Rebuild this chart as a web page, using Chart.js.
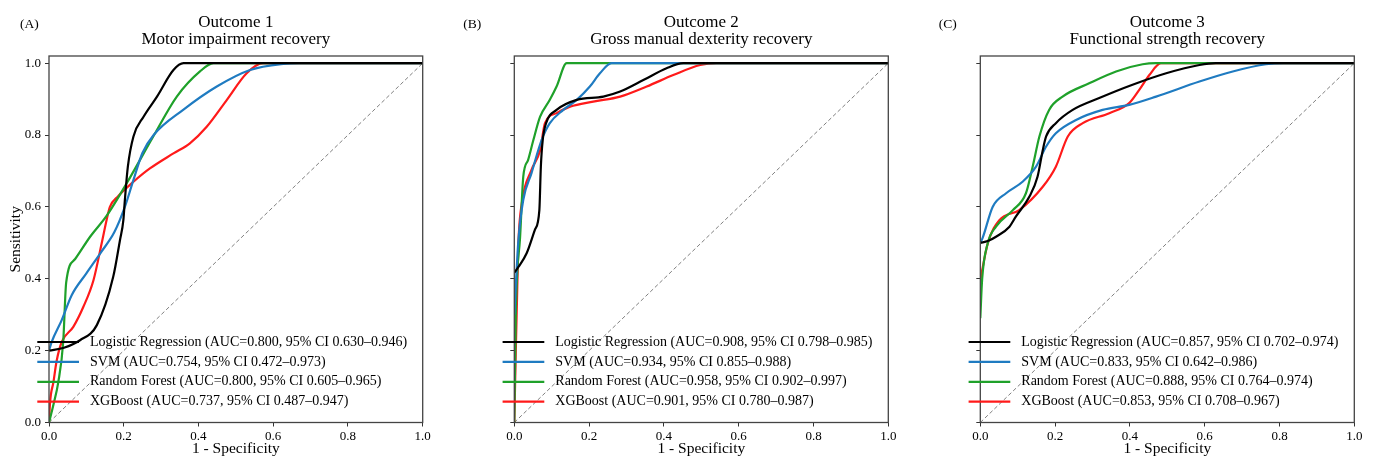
<!DOCTYPE html>
<html><head><meta charset="utf-8">
<script src="https://cdn.jsdelivr.net/npm/chart.js@4.4.1/dist/chart.umd.min.js"></script>
<style>
html,body{margin:0;padding:0;background:#fff;}
body{width:1376px;height:460px;overflow:hidden;position:relative;}
canvas{position:absolute;top:0;}
</style></head><body>
<canvas id="cA" width="460" height="460" style="left:0px"></canvas>
<canvas id="cB" width="460" height="460" style="left:460px"></canvas>
<canvas id="cC" width="456" height="460" style="left:920px"></canvas>
<script>
// ---- data ----
const TICKS = [0, 0.2, 0.4, 0.6, 0.8, 1.0];
const DIAGONAL = [[0, 0], [1, 1]];

const A_TITLE = ['Outcome 1', 'Motor impairment recovery'];
const B_TITLE = ['Outcome 2', 'Gross manual dexterity recovery'];
const C_TITLE = ['Outcome 3', 'Functional strength recovery'];
const PANEL_LETTERS = ['(A)', '(B)', '(C)'];

const A_LABELS = [
  'Logistic Regression (AUC=0.800, 95% CI 0.630\u20130.946)',
  'SVM (AUC=0.754, 95% CI 0.472\u20130.973)',
  'Random Forest (AUC=0.800, 95% CI 0.605\u20130.965)',
  'XGBoost (AUC=0.737, 95% CI 0.487\u20130.947)'];
const B_LABELS = [
  'Logistic Regression (AUC=0.908, 95% CI 0.798\u20130.985)',
  'SVM (AUC=0.934, 95% CI 0.855\u20130.988)',
  'Random Forest (AUC=0.958, 95% CI 0.902\u20130.997)',
  'XGBoost (AUC=0.901, 95% CI 0.780\u20130.987)'];
const C_LABELS = [
  'Logistic Regression (AUC=0.857, 95% CI 0.702\u20130.974)',
  'SVM (AUC=0.833, 95% CI 0.642\u20130.986)',
  'Random Forest (AUC=0.888, 95% CI 0.764\u20130.974)',
  'XGBoost (AUC=0.853, 95% CI 0.708\u20130.967)'];

// [1 - specificity, sensitivity]
const A_LR  = [[0,0.2],[0.04,0.208],[0.083,0.229],[0.128,0.271],[0.172,0.406],[0.19,0.508],[0.199,0.563],[0.203,0.619],[0.211,0.712],[0.226,0.796],[0.253,0.851],[0.289,0.907],[0.333,0.981],[0.36,1],[1,1]];
const A_SVM = [[0,0.2],[0.007,0.224],[0.034,0.285],[0.061,0.355],[0.1,0.415],[0.14,0.475],[0.175,0.53],[0.203,0.6],[0.226,0.675],[0.25,0.75],[0.28,0.8],[0.359,0.87],[0.449,0.935],[0.538,0.981],[0.627,0.998],[0.67,1],[1,1]];
const A_RF  = [[0,0],[0.012,0.05],[0.025,0.113],[0.038,0.224],[0.046,0.39],[0.07,0.455],[0.11,0.517],[0.154,0.575],[0.208,0.666],[0.279,0.796],[0.342,0.907],[0.404,0.977],[0.44,1],[1,1]];
const A_XGB = [[0,0],[0.003,0.058],[0.012,0.113],[0.02,0.169],[0.034,0.224],[0.065,0.266],[0.092,0.322],[0.119,0.396],[0.141,0.499],[0.154,0.563],[0.163,0.6],[0.185,0.63],[0.226,0.67],[0.27,0.707],[0.333,0.749],[0.377,0.777],[0.422,0.823],[0.476,0.898],[0.529,0.972],[0.573,1],[1,1]];

const B_LR  = [[0,0.417],[0.011,0.433],[0.033,0.471],[0.055,0.536],[0.067,0.591],[0.071,0.712],[0.076,0.786],[0.085,0.833],[0.113,0.87],[0.167,0.898],[0.238,0.907],[0.283,0.921],[0.345,0.953],[0.407,0.986],[0.452,1],[1,1]];
const B_SVM = [[0,0.3],[0.005,0.4],[0.011,0.508],[0.024,0.62],[0.046,0.694],[0.073,0.786],[0.095,0.833],[0.131,0.87],[0.167,0.898],[0.202,0.935],[0.229,0.972],[0.26,1],[1,1]];
const B_RF  = [[0,0],[0.004,0.3],[0.008,0.42],[0.015,0.508],[0.024,0.684],[0.037,0.731],[0.051,0.786],[0.069,0.851],[0.095,0.898],[0.113,0.935],[0.14,1],[1,1]];
const B_XGB = [[0,0],[0.004,0.2],[0.008,0.378],[0.011,0.5],[0.02,0.61],[0.046,0.703],[0.069,0.758],[0.082,0.833],[0.113,0.861],[0.149,0.879],[0.211,0.893],[0.283,0.907],[0.354,0.935],[0.425,0.967],[0.497,0.995],[0.541,1],[1,1]];

const C_LR  = [[0,0.5],[0.02,0.505],[0.042,0.517],[0.078,0.545],[0.095,0.573],[0.131,0.628],[0.153,0.684],[0.167,0.758],[0.176,0.796],[0.202,0.833],[0.247,0.87],[0.318,0.903],[0.407,0.94],[0.497,0.972],[0.586,0.995],[0.63,1],[1,1]];
const C_SVM = [[0,0.5],[0.006,0.513],[0.033,0.6],[0.069,0.638],[0.113,0.67],[0.149,0.712],[0.176,0.768],[0.202,0.805],[0.256,0.842],[0.327,0.87],[0.398,0.884],[0.47,0.907],[0.586,0.949],[0.675,0.977],[0.764,0.997],[0.81,1],[1,1]];
const C_RF  = [[0,0.29],[0.005,0.4],[0.02,0.499],[0.042,0.545],[0.087,0.591],[0.122,0.638],[0.14,0.712],[0.158,0.796],[0.184,0.87],[0.22,0.907],[0.291,0.944],[0.363,0.977],[0.434,0.997],[0.47,1],[1,1]];
const C_XGB = [[0,0.396],[0.02,0.499],[0.051,0.563],[0.104,0.591],[0.167,0.656],[0.202,0.712],[0.234,0.796],[0.274,0.833],[0.345,0.861],[0.398,0.889],[0.425,0.926],[0.452,0.967],[0.483,1],[1,1]];

// ---- style ----
const COLORS = ['#000000', '#1f7bc1', '#1fa12a', '#ff1a1a'];
const SERIF = '"Liberation Serif", "Times New Roman", serif';
Chart.defaults.font.family = SERIF;
Chart.defaults.color = '#000';

function toXY(arr) { return arr.map(([x, y]) => ({x, y})); }

const decor = {
  id: 'decor',
  afterDatasetsDraw(chart, args, o) {
    const ctx = chart.ctx, a = chart.chartArea;
    ctx.save();
    // frame
    ctx.strokeStyle = '#444';
    ctx.lineWidth = 1.3;
    ctx.strokeRect(a.left, a.top, a.right - a.left, a.bottom - a.top);
    // legend
    ctx.font = '14px ' + SERIF;
    ctx.textBaseline = 'middle';
    ctx.textAlign = 'left';
    o.labels.forEach((lab, i) => {
      const y = a.bottom - 80.5 + i * 19.9;
      ctx.strokeStyle = COLORS[i];
      ctx.lineWidth = 2.2;
      ctx.beginPath();
      ctx.moveTo(a.left - 11.7, y);
      ctx.lineTo(a.left + 30, y);
      ctx.stroke();
      ctx.fillStyle = '#000';
      ctx.fillText(lab, a.left + 41, y);
    });
    // titles
    ctx.textAlign = 'center';
    ctx.textBaseline = 'alphabetic';
    ctx.font = '17px ' + SERIF;
    const cx = (a.left + a.right) / 2;
    ctx.fillText(o.title[0], cx, 26.5);
    ctx.fillText(o.title[1], cx, 43.5);
    // panel letter
    ctx.textAlign = 'left';
    ctx.font = '13.5px ' + SERIF;
    ctx.fillText(o.letter, o.letterX, 28);
    ctx.restore();
  }
};

function makePanel(id, series, labels, title, letter, letterX, leftPx, padRight, showY) {
  const datasets = series.map((s, i) => ({
    label: labels[i],
    data: toXY(s),
    showLine: true,
    borderColor: COLORS[i],
    backgroundColor: COLORS[i],
    borderWidth: 2.2,
    pointRadius: 0,
    cubicInterpolationMode: 'monotone',
    fill: false,
    order: 1
  }));
  datasets.push({
    label: 'chance',
    data: toXY(DIAGONAL),
    showLine: true,
    borderColor: '#808080',
    borderWidth: 1,
    borderDash: [4, 2.5],
    pointRadius: 0,
    fill: false,
    order: 5
  });
  const tickOpts = {
    font: {size: 13, family: SERIF},
    color: '#000',
    padding: 3,
    callback: v => v.toFixed(1)
  };
  return new Chart(document.getElementById(id), {
    type: 'scatter',
    data: {datasets},
    options: {
      responsive: false,
      animation: false,
      events: [],
      layout: {padding: {top: 56, right: padRight, left: 0, bottom: 0}},
      plugins: {
        legend: {display: false},
        tooltip: {enabled: false},
        title: {display: false},
        decor: {labels, title, letter, letterX}
      },
      scales: {
        x: {
          type: 'linear', min: 0, max: 1,
          afterBuildTicks: s => { s.ticks = TICKS.map(v => ({value: v})); },
          afterFit: s => { s.height = 37.5; },
          grid: {drawOnChartArea: false, drawTicks: true, tickLength: 4, color: '#333', lineWidth: 1},
          border: {display: false},
          ticks: Object.assign({}, tickOpts, {padding: 2, maxRotation: 0}),
          title: {display: true, text: '1 - Specificity', font: {size: 15.5, family: SERIF}, color: '#000', padding: {top: 0, bottom: 1.5}}
        },
        y: {
          type: 'linear', min: 0, max: 1.02,
          afterBuildTicks: s => { s.ticks = TICKS.map(v => ({value: v})); },
          afterFit: s => { s.width = leftPx; },
          grid: {drawOnChartArea: false, drawTicks: true, tickLength: 4, color: '#333', lineWidth: 1},
          border: {display: false},
          ticks: Object.assign({}, tickOpts, {padding: 4, callback: v => showY ? v.toFixed(1) : ''}),
          title: {display: showY, text: 'Sensitivity', font: {size: 15.5, family: SERIF}, color: '#000', padding: {top: 6.5, bottom: 0}}
        }
      }
    },
    plugins: [decor]
  });
}

makePanel('cA', [A_LR, A_SVM, A_RF, A_XGB], A_LABELS, A_TITLE, PANEL_LETTERS[0], 20, 49, 37.3, true);
makePanel('cB', [B_LR, B_SVM, B_RF, B_XGB], B_LABELS, B_TITLE, PANEL_LETTERS[1], 3.3, 54.3, 31.7, false);
makePanel('cC', [C_LR, C_SVM, C_RF, C_XGB], C_LABELS, C_TITLE, PANEL_LETTERS[2], 18.7, 60.3, 21.7, false);
</script>
</body></html>
